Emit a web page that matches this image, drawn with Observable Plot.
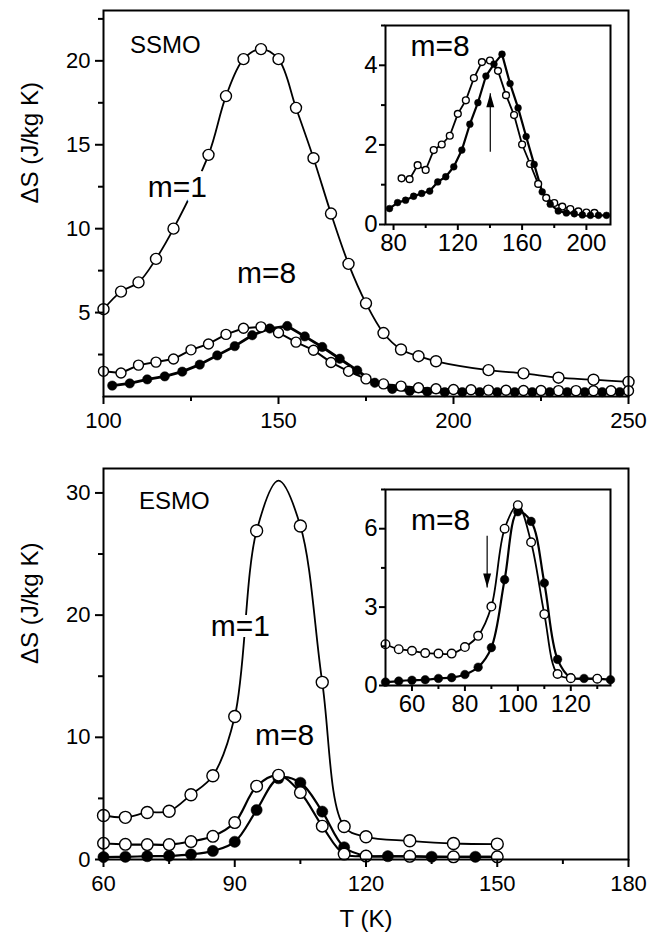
<!DOCTYPE html>
<html><head><meta charset="utf-8">
<script src="https://cdn.jsdelivr.net/npm/d3@7"></script>
<script src="https://cdn.jsdelivr.net/npm/@observablehq/plot@0.6"></script>
<style>
body{margin:0;background:#fff;}
#wrap{position:relative;width:651px;height:942px;background:#fff;}
#wrap svg{position:absolute;}
</style></head><body><div id="wrap"></div>
<script>
// ---------- SSMO (top panel) ----------
const ssmoM1T = [100,105,110,115,120,130,135,140,145,150,155,160,165,170,175,180,185,190,195,210,220,230,240,250];
const ssmoM1  = [5.2,6.25,6.8,8.2,10.0,14.4,17.9,20.1,20.7,20.1,17.2,14.2,10.9,7.9,5.55,3.78,2.8,2.4,2.1,1.57,1.38,1.12,1.0,0.87];

const ssmoOpenT = [100,105,110,115,120,125,130,135,140,145,150,155,160,165,170,175,180,185,190,195,200,205,210,215,220,225,230,235,240,245,250];
const ssmoOpen  = [1.5,1.4,1.87,2.05,2.23,2.78,3.13,3.7,4.07,4.15,3.8,3.24,2.76,2.03,1.5,1.05,0.75,0.62,0.52,0.46,0.42,0.4,0.38,0.37,0.36,0.36,0.35,0.35,0.34,0.34,0.34];

const ssmoFilledT = [102.5,107.5,112.5,117.5,122.5,127.5,132.5,137.5,142.5,147.5,152.5,157.5,162.5,167.5,172.5,177.5,182.5,187.5,192.5,197.5,202.5,207.5,212.5,217.5,222.5,227.5,232.5,237.5,242.5,247.5];
const ssmoFilled  = [0.65,0.78,1.02,1.2,1.48,1.9,2.45,3.0,3.65,4.05,4.2,3.58,2.95,2.25,1.55,0.82,0.45,0.33,0.28,0.26,0.26,0.26,0.26,0.26,0.26,0.26,0.26,0.26,0.26,0.26];

// SSMO inset (m=8)
const ssmoInOpenT = [85,90,95,100,105,110,115,120,125,130,135,140,145,150,155,160,165,170,175,180,185,190,195,200,205];
const ssmoInOpen  = [1.16,1.14,1.49,1.37,1.87,2.01,2.23,2.78,3.12,3.68,4.08,4.12,3.86,3.25,2.75,2.01,1.52,1.02,0.67,0.54,0.45,0.39,0.33,0.3,0.29];
const ssmoInFilledT = [77.5,82.5,87.5,92.5,97.5,102.5,107.5,112.5,117.5,122.5,127.5,132.5,137.5,142.5,147.5,152.5,157.5,162.5,167.5,172.5,177.5,182.5,187.5,192.5,197.5,202.5,207.5,212.5];
const ssmoInFilled  = [0.40,0.55,0.61,0.71,0.78,0.84,1.07,1.2,1.45,1.87,2.52,3.06,3.73,4.03,4.28,3.54,2.93,2.21,1.51,0.82,0.51,0.34,0.29,0.27,0.24,0.23,0.23,0.23];
const ssmoArrow = [{T: 140.2, from: 1.83, to: 3.3}];

// ---------- ESMO (bottom panel) ----------
const esmoM1T = [60,65,70,75,80,85,90,95,100,105,110,115,120,130,140,150];
const esmoM1  = [3.6,3.45,3.85,3.95,5.3,6.86,11.7,26.9,31.0,27.3,14.5,2.7,1.86,1.53,1.31,1.26];
const esmoM1Unmarked = [100]; // curve maximum, drawn without a symbol

const esmoOpenT = [50,55,60,65,70,75,80,85,90,95,100,105,110,115,120,130,140,150];
const esmoOpen  = [1.58,1.39,1.33,1.24,1.22,1.22,1.47,1.9,3.02,6.0,6.9,5.48,2.73,0.44,0.28,0.26,0.22,0.22];
const esmoFilledT = [50,55,60,65,70,75,80,85,90,95,100,105,110,115,120,125,130,135,140,145,150];
const esmoFilled  = [0.13,0.17,0.2,0.22,0.27,0.3,0.42,0.7,1.45,4.05,6.65,6.28,3.92,1.0,0.3,0.27,0.26,0.22,0.22,0.22,0.22];
const esmoArrow = [{T: 88.4, from: 5.73, to: 3.75}];

// tick labels
const ssmoXTicks = [100,150,200,250], ssmoXMinor = [125,175,225];
const ssmoYTicks = [5,10,15,20], ssmoYMinor = [2.5,7.5,12.5,17.5,22.5];
const esmoXTicks = [60,90,120,150,180], esmoXMinor = [75,105,135,165];
const esmoYTicks = [0,10,20,30], esmoYMinor = [5,15,25];
const ssmoInXTicks = [80,120,160,200], ssmoInXMinor = [100,140,180];
const ssmoInYTicks = [0,2,4], ssmoInYMinor = [1,3,5];
const esmoInXTicks = [60,80,100,120], esmoInXMinor = [70,90,110,130];
const esmoInYTicks = [0,3,6], esmoInYMinor = [1.5,4.5,7.5];

// annotation anchors (data coordinates)
const ssmoName = [{T: 117.7, v: 20.95, s: "SSMO"}];
const ssmoM1Label = [{T: 121.1, v: 12.44, s: "m=1"}];
const ssmoM8Label = [{T: 146.6, v: 7.32, s: "m=8"}];
const ssmoInLabel = [{T: 109, v: 4.48, s: "m=8"}];
const esmoName = [{T: 76.2, v: 29.3, s: "ESMO"}];
const esmoM1Label = [{T: 91.3, v: 19.1, s: "m=1"}];
const esmoM8Label = [{T: 101.4, v: 10.16, s: "m=8"}];
const esmoInLabel = [{T: 70.8, v: 6.3, s: "m=8"}];
const yTitle = "\u0394S (J/kg K)";
const xTitle = "T (K)";

// ---------- helpers ----------
const FONT = '"Liberation Sans", Arial, Helvetica, sans-serif';
const rec = (T, v) => T.map((t, i) => ({T: t, v: v[i]}));
const wrap = document.getElementById("wrap");
function place(svg, left, top) {
  svg.style.left = left + "px";
  svg.style.top = top + "px";
  wrap.appendChild(svg);
}
const headSymbol = {
  draw(ctx) { ctx.moveTo(0, 0); ctx.lineTo(4, 14); ctx.lineTo(-4, 14); ctx.closePath(); }
};
const xy = {x: "T", y: "v"};
const fmt = (d) => String(d);
const openDot = (d, r) => Plot.dot(d, {...xy, r, fill: "white", stroke: "black", strokeWidth: 1.4});
const fullDot = (d, r) => Plot.dot(d, {...xy, r, fill: "black", stroke: "black", strokeWidth: 0.5});
const label = (d, size, halo) => Plot.text(d, {...xy, text: "s", fontSize: size, fill: "black",
  ...(halo ? {stroke: "white", strokeWidth: 12} : {})});
function axes(xt, xm, yt, ym, big, inset) {
  const ts = inset ? 6 : 8, tm = inset ? 4 : 5;
  return [
    Plot.axisX({ticks: xt, tickSize: ts, tickPadding: inset ? 3 : 8, strokeWidth: 2, label: null, fontSize: big, tickFormat: fmt}),
    Plot.axisX({ticks: xm, tickSize: tm, tickFormat: () => "", strokeWidth: 2, label: null}),
    Plot.axisY({ticks: yt, tickSize: ts, tickPadding: inset ? 2 : 5, strokeWidth: 2, label: null, fontSize: big, tickFormat: fmt}),
    Plot.axisY({ticks: ym, tickSize: tm, tickFormat: () => "", strokeWidth: 2, label: null}),
  ];
}
const baseStyle = (fs) => ({fontFamily: FONT, fontSize: fs + "px", background: "transparent", overflow: "visible", color: "black"});

// ---------- SSMO main ----------
const sM1 = rec(ssmoM1T, ssmoM1), sOp = rec(ssmoOpenT, ssmoOpen), sFi = rec(ssmoFilledT, ssmoFilled);
place(Plot.plot({
  width: 651, height: 440, marginLeft: 103, marginRight: 23, marginTop: 10, marginBottom: 44,
  x: {domain: [100, 250]}, y: {domain: [0, 23]},
  style: baseStyle(22),
  marks: [
    Plot.line(sM1, {...xy, curve: "catmull-rom", strokeWidth: 1.8}),
    Plot.line(sOp, {...xy, strokeWidth: 2}),
    Plot.line(sFi, {...xy, strokeWidth: 2.8}),
    openDot(sM1, 5.5),
    openDot(sOp, 5),
    fullDot(sFi, 4.7),
    label(ssmoName, 24),
    label(ssmoM1Label, 30, true),
    label(ssmoM8Label, 30),
    ...axes(ssmoXTicks, ssmoXMinor, ssmoYTicks, ssmoYMinor, 22, false),
    Plot.text([yTitle], {frameAnchor: "left", dx: -73, rotate: -90, fontSize: 24}),
    Plot.frame({strokeWidth: 2})
  ]
}), 0, 0);

// ---------- SSMO inset ----------
const siOp = rec(ssmoInOpenT, ssmoInOpen), siFi = rec(ssmoInFilledT, ssmoInFilled);
place(Plot.plot({
  width: 290, height: 262, marginLeft: 45, marginRight: 20, marginTop: 25, marginBottom: 38,
  x: {domain: [75, 215]}, y: {domain: [0, 5]},
  style: baseStyle(24),
  marks: [
    Plot.frame({fill: "white", stroke: null}),
    Plot.line(siOp, {...xy, strokeWidth: 1.8}),
    Plot.line(siFi, {...xy, strokeWidth: 2.2}),
    openDot(siOp, 3.4),
    fullDot(siFi, 3.4),
    Plot.link(ssmoArrow, {x1: "T", x2: "T", y1: "from", y2: "to", strokeWidth: 1.2}),
    Plot.dot(ssmoArrow, {x: "T", y: "to", symbol: headSymbol, fill: "black", stroke: null}),
    label(ssmoInLabel, 30),
    ...axes(ssmoInXTicks, ssmoInXMinor, ssmoInYTicks, ssmoInYMinor, 24, true),
    Plot.frame({strokeWidth: 2})
  ]
}), 340, 0);

// ---------- ESMO main ----------
const eM1 = rec(esmoM1T, esmoM1);
const eOp = rec(esmoOpenT, esmoOpen).filter(d => d.T >= 60);
const eFi = rec(esmoFilledT, esmoFilled).filter(d => d.T >= 60);
place(Plot.plot({
  width: 651, height: 502, marginLeft: 103, marginRight: 23, marginTop: 28, marginBottom: 83,
  x: {domain: [60, 180]}, y: {domain: [0, 32]},
  style: baseStyle(22),
  marks: [
    Plot.line(eM1, {...xy, curve: "catmull-rom", strokeWidth: 1.8}),
    Plot.line(eFi, {...xy, curve: "catmull-rom", strokeWidth: 2.2}),
    Plot.line(eOp, {...xy, curve: "catmull-rom", strokeWidth: 2.2}),
    fullDot(eFi, 5.6),
    openDot(eOp, 5.8),
    openDot(eM1.filter(d => !esmoM1Unmarked.includes(d.T)), 6),
    label(esmoName, 24),
    label(esmoM1Label, 30, true),
    label(esmoM8Label, 30),
    ...axes(esmoXTicks, esmoXMinor, esmoYTicks, esmoYMinor, 22, false),
    Plot.text([yTitle], {frameAnchor: "left", dx: -73, rotate: -90, fontSize: 24}),
    Plot.text([xTitle], {frameAnchor: "bottom", dy: 67, fontSize: 24}),
    Plot.frame({strokeWidth: 2})
  ]
}), 0, 440);

// ---------- ESMO inset ----------
const eiOp = rec(esmoOpenT, esmoOpen).filter(d => d.T <= 135);
const eiFi = rec(esmoFilledT, esmoFilled).filter(d => d.T <= 135);
place(Plot.plot({
  width: 290, height: 262, marginLeft: 45, marginRight: 20, marginTop: 29, marginBottom: 37,
  x: {domain: [50, 135]}, y: {domain: [0, 7.5]},
  style: baseStyle(24),
  marks: [
    Plot.frame({fill: "white", stroke: null}),
    Plot.line(eiFi, {...xy, curve: "catmull-rom", strokeWidth: 2.2}),
    Plot.line(eiOp, {...xy, curve: "catmull-rom", strokeWidth: 1.8}),
    fullDot(eiFi, 4.3),
    openDot(eiOp, 4.3),
    Plot.link(esmoArrow, {x1: "T", x2: "T", y1: "from", y2: "to", strokeWidth: 1.2}),
    Plot.dot(esmoArrow, {x: "T", y: "to", symbol: headSymbol, rotate: 180, fill: "black", stroke: null}),
    label(esmoInLabel, 30),
    ...axes(esmoInXTicks, esmoInXMinor, esmoInYTicks, esmoInYMinor, 24, true),
    Plot.frame({strokeWidth: 2})
  ]
}), 340, 460);
</script></body></html>
